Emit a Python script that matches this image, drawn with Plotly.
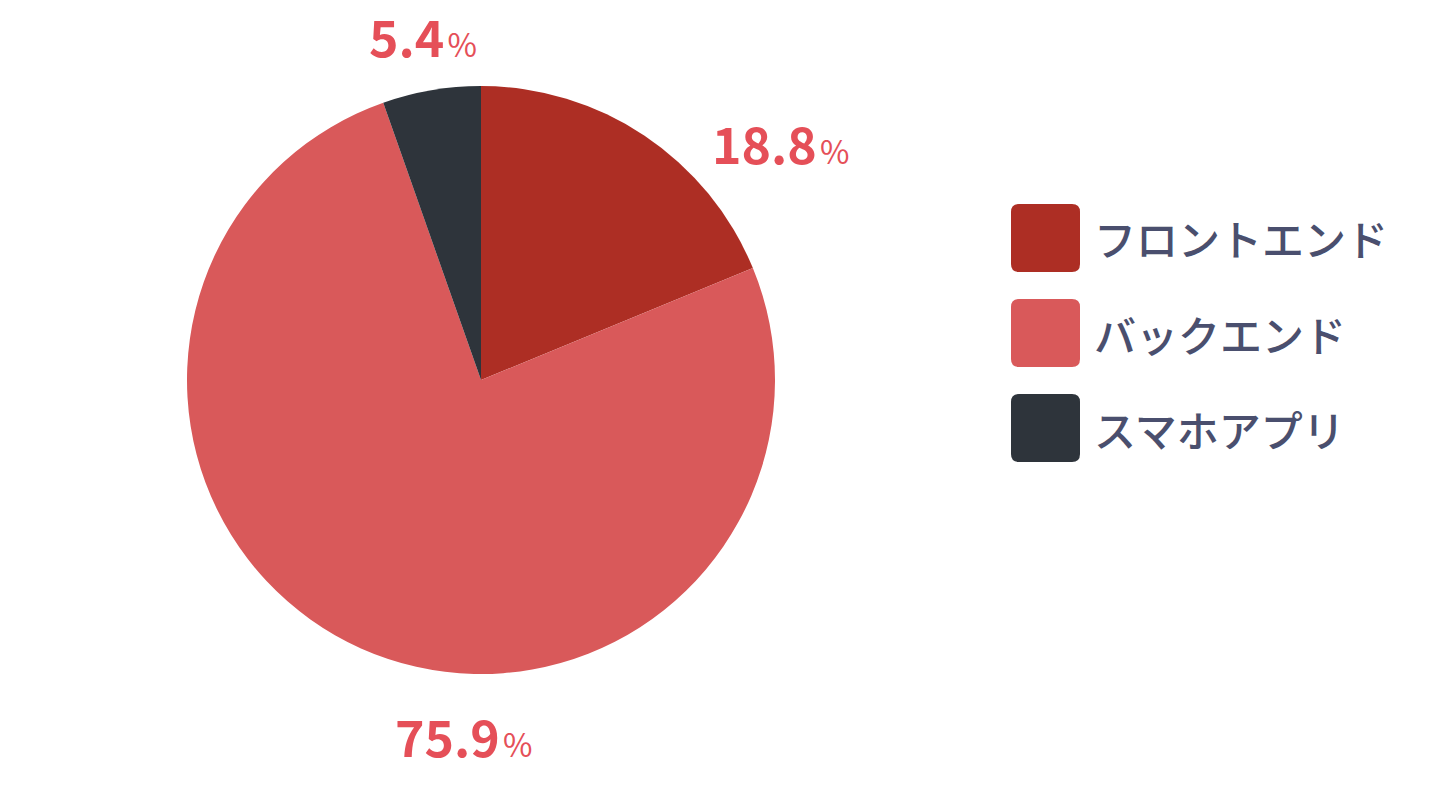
import plotly.graph_objects as go

categories = ["フロントエンド", "バックエンド", "スマホアプリ"]
values = [18.8, 75.9, 5.4]
colors = ["#AD2E24", "#D9595A", "#2E343B"]

W, H = 1440, 785
OFF = 8  # page body margin
FONT = "Noto Sans CJK JP"
LABEL_COLOR = "#E54F58"
LEGEND_COLOR = "#4A4F6E"

def px(x):
    return (x - OFF) / W

def py(y):
    return 1 - (y - OFF) / H

fig = go.Figure(go.Pie(
    labels=categories,
    values=values,
    marker=dict(colors=colors, line=dict(width=0)),
    sort=False,
    direction="clockwise",
    rotation=0,
    textinfo="none",
    hoverinfo="label+percent",
    showlegend=False,
    domain=dict(x=[px(187), px(775)], y=[py(674), py(86)]),
))

# value labels (positions in pixels)
label_pos = {"フロントエンド": (710, 142), "バックエンド": (393, 735), "スマホアプリ": (367, 35)}
annotations = []
for cat, v in zip(categories, values):
    x, y = label_pos[cat]
    annotations.append(dict(
        x=px(x), y=py(y), xref="paper", yref="paper",
        xanchor="left", yanchor="middle", showarrow=False,
        height=50, valign="middle",
        text=(f"<b>{v:.1f}</b><span style='font-size:14px'> </span>"
              f"<span style='font-size:32px'>%</span>"),
        font=dict(family=FONT, size=50, color=LABEL_COLOR),
    ))

# custom legend
shapes = []
r = 8
for i, (cat, col) in enumerate(zip(categories, colors)):
    x0, x1 = 1011, 1080
    y0 = 204 + i * 95
    y1 = y0 + 68
    pts = [
        f"M {px(x0 + r)},{py(y0)}",
        f"L {px(x1 - r)},{py(y0)}",
        f"Q {px(x1)},{py(y0)} {px(x1)},{py(y0 + r)}",
        f"L {px(x1)},{py(y1 - r)}",
        f"Q {px(x1)},{py(y1)} {px(x1 - r)},{py(y1)}",
        f"L {px(x0 + r)},{py(y1)}",
        f"Q {px(x0)},{py(y1)} {px(x0)},{py(y1 - r)}",
        f"L {px(x0)},{py(y0 + r)}",
        f"Q {px(x0)},{py(y0)} {px(x0 + r)},{py(y0)}",
        "Z",
    ]
    shapes.append(dict(type="path", xref="paper", yref="paper", path=" ".join(pts),
                       fillcolor=col, line=dict(width=0)))
    annotations.append(dict(
        x=px(1092), y=py((y0 + y1) / 2), xref="paper", yref="paper",
        xanchor="left", yanchor="middle", showarrow=False,
        text=cat, font=dict(family=FONT, size=42, color=LEGEND_COLOR, weight=500),
    ))

fig.update_layout(
    width=W, height=H,
    margin=dict(l=0, r=0, t=0, b=0),
    paper_bgcolor="white", plot_bgcolor="white",
    annotations=annotations, shapes=shapes,
)

fig.write_html("out.html")
